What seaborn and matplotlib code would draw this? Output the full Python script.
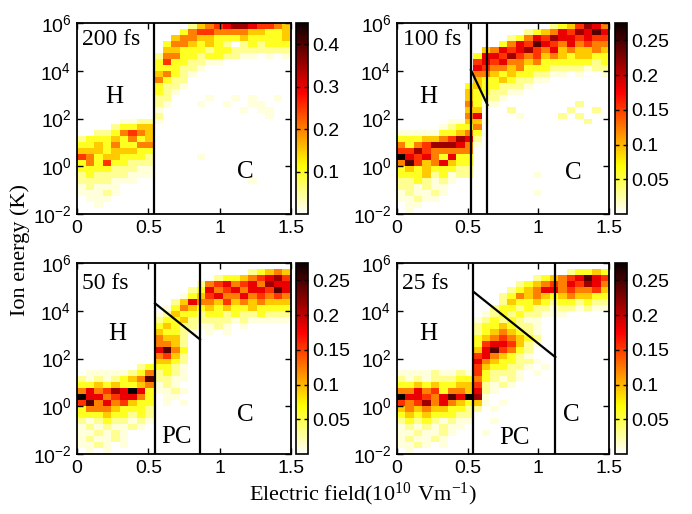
import numpy as np
import pandas as pd
import matplotlib
matplotlib.use("Agg")
import matplotlib.pyplot as plt
import seaborn as sns

# ---------------- data ----------------
field_step = 0.06          # histogram bin width in 10^10 V/m (25 bins, 0..1.5)
n_field_bins = 25
logE_top, logE_step = 6.0, 0.25   # 32 bins of 0.25 decade, 10^6 .. 10^-2 K
n_energy_bins = 32

pulse_labels = ["200 fs", "100 fs", "50 fs", "25 fs"]
cbar_max = [0.45, 0.275, 0.275, 0.275]
cbar_ticks = [[0.1, 0.2, 0.3, 0.4],
              [0.05, 0.1, 0.15, 0.2, 0.25],
              [0.05, 0.1, 0.15, 0.2, 0.25],
              [0.05, 0.1, 0.15, 0.2, 0.25]]
x_tick_values = [0, 0.5, 1, 1.5]
x_tick_labels = ["0", "0.5", "1", "1.5"]
y_tick_exponents = [-2, 0, 2, 4, 6]

# regime boundaries (field values) and sloped boundary (field, log10 energy)
boundary_fields = [[0.54], [0.523, 0.64], [0.547, 0.862], [0.54, 1.12]]
slope_fields = [[], [0.523, 0.64], [0.547, 0.862], [0.54, 1.12]]
slope_logE = [[], [4.03, 2.57], [4.31, 2.80], [4.8, 2.06]]
region_names = [["H", "C"], ["H", "C"], ["H", "PC", "C"], ["H", "PC", "C"]]

# histogram intensity levels (0-9, '.' = trace), rows: 10^6 (top) -> 10^-2 (bottom)
# columns: field bins 0..8 | 9..24
hist_200fs = [
    "000000000|0000134567765543",
    "000000000|0002455444433223",
    "000000000|0034433222322223",
    "000000000|0244323210121222",
    "000000000|0332221221111111",
    "000000000|1442212211..0.0.",
    "000000000|252211..00000000",
    "000000000|22211.0000000000",
    "000000000|3421.00000000000",
    "000000000|4211000000000000",
    "000000000|211.000000000000",
    "000000000|21.0000000000000",
    "000000000|110000.00.0.00.0",
    "000000000|1.000.00.00..000",
    "000000000|.000000000.0..00",
    "000000000|1000000000000.00",
    "00000..11|.000000000000000",
    "000012233|0000000000000000",
    "001124543|0000000000000000",
    "122232423|0000000000000000",
    "223242244|0000000000000000",
    "333233322|0000000000000000",
    "542332221|00000.0000000000",
    "242522111|0000000000000000",
    "2222111..|0000000000000000",
    "121111...|0000000000000000",
    "1111...00|00000000000.0000",
    ".1...0000|0000000000000000",
    "...1.0000|0000000000000000",
    "0...00000|0000000000000000",
    "00.000000|0000000000000000",
    "000000000|0000000000000000",
]
hist_100fs = [
    "000000000|0000000001235764",
    "000000000|0000001234657686",
    "000000000|0000124657665655",
    "000000000|0002465865464544",
    "000000000|0346567546343343",
    "000000000|2665754534323322",
    "000000000|5656443422222212",
    "000000000|6544342221111.11",
    "000000000|443232211..0.00.",
    "000000000|3223211..0000000",
    "000000002|322111.000000000",
    "000000003|2211..0000000000",
    "000000003|211.000000000000",
    "000000004|2..0000000001000",
    "000000003|3000100000010010",
    "000000004|60000.0000101000",
    "000000..3|3.00000000000100",
    "00000.122|4000000000000000",
    ".....2234|2000000000000000",
    "222334576|1000000000000000",
    "424577764|.000000000000000",
    "557544444|0000000000000000",
    "965642622|0000000000000000",
    "485346322|0000000000000000",
    "232322211|0000000000000000",
    "222312.11|0000000.00000000",
    "1121.1.00|0000000000000000",
    "11.1..000|0000000000000000",
    ".1..1.000|0000000.00000000",
    "..1..0000|0000000000000000",
    "0..000000|0000000000000000",
    "0.0000000|0000000000000000",
]
hist_50fs = [
    "000000000|0000000000000000",
    "000000000|0000000000012343",
    "000000000|0000000122345675",
    "000000000|0000014564564766",
    "000000000|0000126456466586",
    "000000000|000.235644645454",
    "000000000|0013644353434333",
    "000000000|0.24323232232222",
    "000000000|.132212212112111",
    "000000000|122311111.1.....",
    "000000000|23211..1.0.00000",
    "000000000|3221.0.0.0000000",
    "000000000|4331000000000000",
    "000000000|4431000000000000",
    "000000000|6842000000000000",
    "000000000|4531000000000000",
    "000000000|3321000000000000",
    "000000012|221.000000000000",
    "0.....124|121.000000000000",
    "1.1.12348|11..000000000000",
    "223232234|.1.0000000000000",
    "464576962|..1.000000000000",
    "966456642|0..0000000000000",
    "584645322|0.0.000000000000",
    "244432221|0000000000000000",
    "222322121|0000000000000000",
    "1.1211.1.|0000000000000000",
    ".1.1..1.0|0000000000000000",
    "..1.1.000|0000000000000000",
    ".1..1.000|0000000000000000",
    "..1.0.000|0000000000000000",
    "0.0.00000|0000000000000000",
]
hist_25fs = [
    "000000000|0000000000000000",
    "000000000|0000000000012232",
    "000000000|0000000123456865",
    "000000000|0000012345465764",
    "000000000|0000123466454453",
    "000000000|0001243432343322",
    "000000000|0001322321221211",
    "000000000|001221211.11.1..",
    "000000000|0.121211...00000",
    "000000000|.12121..00000000",
    "000000000|1223211.00000000",
    "000000000|1234321.00000000",
    "000000000|2345432100000000",
    "000000000|2566531.00000000",
    "000000000|3685421000000000",
    "000000000|564321.000000000",
    "000000000|6432211.00000000",
    "000000000|532211.0.0000000",
    "....1..1.|52111.0.00000000",
    "1.1.11122|421.1.0000000000",
    "223232233|51.1.00000000000",
    "446452443|61.0000000000000",
    "966546869|7.00000000000000",
    "545746432|3.0.000000000000",
    "343433221|10.0000000000000",
    "232322211|0000000000000000",
    "12121.1..|00.0000000000000",
    ".1.1.1..0|0000000000000000",
    "..1..1.00|0.00000000000000",
    ".1..1.000|0000000000000000",
    "..1.0.000|0000000000000000",
    "0.0000000|0000000000000000",
]
histograms = [hist_200fs, hist_100fs, hist_50fs, hist_25fs]

# ---------------- layout / style ----------------
W, H = 692, 514
panel_px = [(77, 23, 291, 214), (397, 23, 609, 214),
            (77, 263, 291, 454), (397, 263, 609, 454)]
cbar_px = [(296, 23, 308, 214), (615, 23, 627, 214),
           (296, 263, 308, 454), (615, 263, 627, 454)]
pulse_pos = [(0.035, 5.29), (0.042, 5.29), (0.033, 5.16), (0.033, 5.14)]
region_pos = [[(0.26, 2.91), (1.18, -0.24)],
              [(0.22, 2.90), (1.25, -0.28)],
              [(0.28, 3.03), (0.70, -1.29), (1.18, -0.37)],
              [(0.22, 3.03), (0.83, -1.33), (1.23, -0.37)]]

SERIF = ["Liberation Serif", "DejaVu Serif"]
plt.rcParams["font.family"] = ["Liberation Sans", "DejaVu Sans"]
plt.rcParams["axes.linewidth"] = 1.3


def to_x(field):
    return field / field_step


def to_y(logE):
    return (logE_top - logE) / logE_step


def decode(rows, vmax):
    arr = np.zeros((n_energy_bins, n_field_bins))
    for i, row in enumerate(rows):
        s = (row.replace("|", "") + "0" * n_field_bins)[:n_field_bins]
        for j, ch in enumerate(s):
            lvl = 0.35 if ch == "." else float(ch)
            arr[i, j] = lvl / 9.0 * vmax
    return arr


def frac_rect(px):
    x0, y0, x1, y1 = px
    return [x0 / W, 1 - y1 / H, (x1 - x0) / W, (y1 - y0) / H]


fig = plt.figure(figsize=(W / 100, H / 100), dpi=100)
fig.patch.set_facecolor("white")

field_centers = [round((j + 0.5) * field_step, 3) for j in range(n_field_bins)]
energy_centers = [round(logE_top - (i + 0.5) * logE_step, 3) for i in range(n_energy_bins)]

for k in range(4):
    ax = fig.add_axes(frac_rect(panel_px[k]))
    cax = fig.add_axes(frac_rect(cbar_px[k]))
    df = pd.DataFrame(decode(histograms[k], cbar_max[k]),
                      index=energy_centers, columns=field_centers)
    sns.heatmap(df, ax=ax, cmap="hot_r", vmin=0, vmax=cbar_max[k],
                cbar_ax=cax, cbar_kws={"ticks": cbar_ticks[k], "format": "%g"},
                xticklabels=False, yticklabels=False, linewidths=0)
    ax.set_xlim(0, n_field_bins)
    ax.set_ylim(n_energy_bins, 0)
    ax.set_xlabel("")
    ax.set_ylabel("")
    for sp in ax.spines.values():
        sp.set_visible(True)
        sp.set_linewidth(1.3)
        sp.set_color("black")
    ax.set_xticks([to_x(v) for v in x_tick_values])
    ax.set_xticklabels(x_tick_labels)
    ax.set_yticks([to_y(e) for e in y_tick_exponents])
    ax.set_yticklabels([r"$\mathdefault{10^{%d}}$" % e for e in y_tick_exponents])
    ax.tick_params(direction="in", top=True, right=True, length=4, width=1,
                   labelsize=14, pad=4)

    # regime boundaries
    for bf in boundary_fields[k]:
        ax.plot([to_x(bf), to_x(bf)], [0, n_energy_bins], color="black", lw=1.6,
                solid_capstyle="butt")
    if slope_fields[k]:
        ax.plot([to_x(f) for f in slope_fields[k]], [to_y(e) for e in slope_logE[k]],
                color="black", lw=1.6)

    # labels
    px, py = pulse_pos[k]
    ax.text(to_x(px), to_y(py), pulse_labels[k], ha="left", va="center",
            fontsize=17, family=SERIF)
    for name, (rx, ry) in zip(region_names[k], region_pos[k]):
        ax.text(to_x(rx), to_y(ry), name, ha="center", va="center",
                fontsize=18, family=SERIF)

    cb = ax.collections[0].colorbar
    cb.outline.set_linewidth(1.2)
    cb.outline.set_edgecolor("black")
    cb.ax.tick_params(labelsize=14, direction="in", length=3, width=1,
                      left=True, right=True, pad=3)

fig.text(0.029, 0.514, "Ion energy (K)", rotation=90, ha="center", va="center",
         fontsize=16, family=SERIF)
fig.text(0.525, 0.039, r"Electric field$\mathdefault{(10^{10}\ Vm^{-1})}$",
         ha="center", va="center", fontsize=16, family=SERIF)

fig.savefig("out.png", dpi=100, facecolor="white")
